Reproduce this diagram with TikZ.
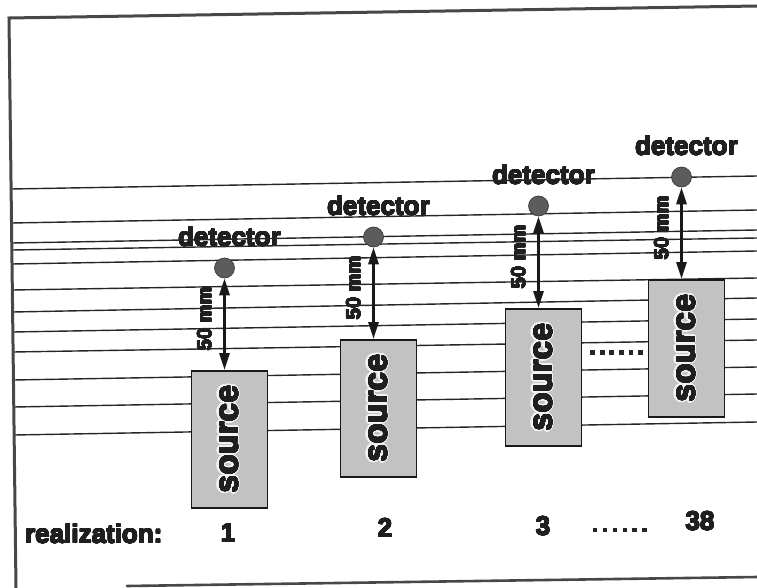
\documentclass[tikz,border=0pt]{standalone}
\usepackage{fontspec}
\setmainfont{Liberation Sans}
\usepackage[copies]{contour}
\contournumber{24}
\usetikzlibrary{arrows.meta}

% heavier lettering: the glyphs get a thin outline in their own colour
\newcommand\heavytext[1]{{\contourlength{0.38pt}\contour{black!88}{#1}}}

\begin{document}
\begin{tikzpicture}[x=1pt,y=-1pt,
  frameline/.style={line width=3pt, draw=black!72, line cap=round},
  track/.style={line width=1.4pt, draw=black!85},
  srcbox/.style={draw=black!90, line width=1.6pt, fill=black!24,
    minimum width=76pt, minimum height=137pt, inner sep=0pt},
  detball/.style={circle, fill=black!64, draw=black!80, line width=0.6pt,
    minimum size=20pt, inner sep=0pt},
  gapdot/.style={fill=black!85, minimum size=4.8pt, inner sep=0pt},
  lbl/.style={font=\fontsize{26}{30}\selectfont\bfseries, text=black!88,
    inner sep=0pt, anchor=base},
  srclbl/.style={font=\fontsize{33}{36}\selectfont\bfseries, text=black!88,
    rotate=90, inner sep=0pt},
  mmlbl/.style={font=\fontsize{20}{22}\selectfont\bfseries, text=black!88,
    rotate=90, inner sep=0pt},
  span/.style={{Triangle[length=17pt,width=10pt]}-{Triangle[length=17pt,width=10pt]},
    line width=2.8pt, draw=black!90}
]
\useasboundingbox (0,0) rectangle (757,588);

% source boxes (centre x, top y) and detectors 5pt left of the box axis
\foreach \n/\cx/\top in {1/229.5/370, 2/378.5/339, 3/543.5/308, 4/686.5/279}{
  \coordinate (top\n) at (\cx,\top);
  \coordinate (dc\n) at ({\cx-5},{\top-102});
  \node[lbl] (dlbl\n) at (\cx,{\top-124}) {\heavytext{detector}};
  \node[mmlbl] (mm\n) at ({\cx-25},{\top-51}) {\heavytext{50 mm}};
}

% layered horizontal lines
\foreach \ly/\ry in {189/176, 223/210, 243/230, 250/238, 264/251, 290/278,
                     312/298, 332/319, 352/340, 380/367, 407/394, 435/422}{
  \draw[track] ({11+(\ly-189)*0.0123},\ly) -- (757,\ry);
}

% sources: grey box, pale halo behind the label, detector and 50 mm span
\foreach \n in {1,...,4}{
  \node[srcbox, anchor=north] (src\n) at (top\n) {};
  \node[srclbl, text=black!5] (halo\n) at (src\n.center)
    {{\contourlength{2.2pt}\contour{black!5}{source}}};
  \node[srclbl] (slbl\n) at (src\n.center) {\heavytext{source}};
  \node[detball] (det\n) at (dc\n) {};
  \draw[span] (det\n.south) -- (det\n.south |- src\n.north);
}

% dots between the third and the last source
\foreach \i in {0,...,5}{
  \node[gapdot] (gap\i) at ({592.5+\i*9.6},352.7) {};
}

% realization numbers
\node[lbl, anchor=base west] (rlbl) at (25,543) {\heavytext{realization:}};
\node[lbl] (r1) at (228,542) {\heavytext{1}};
\node[lbl] (r2) at (385,537) {\heavytext{2}};
\node[lbl] (r3) at (543,535) {\heavytext{3}};
\foreach \i in {0,...,5}{
  \node[gapdot, minimum size=4.3pt] (rdot\i) at ({595+\i*9.9},530) {};
}
\node[lbl] (r38) at (700,530) {\heavytext{38}};

% frame
\coordinate (ftl) at (9,18);
\coordinate (ftr) at (757,6);
\coordinate (fbl) at (16,588);
\coordinate (fb0) at (127,586);
\coordinate (fbr) at (757,577);
\draw[frameline] (ftr) -- (ftl) -- (fbl);
\draw[frameline, line width=2.6pt] (fb0) -- (fbr);
\end{tikzpicture}
\end{document}
